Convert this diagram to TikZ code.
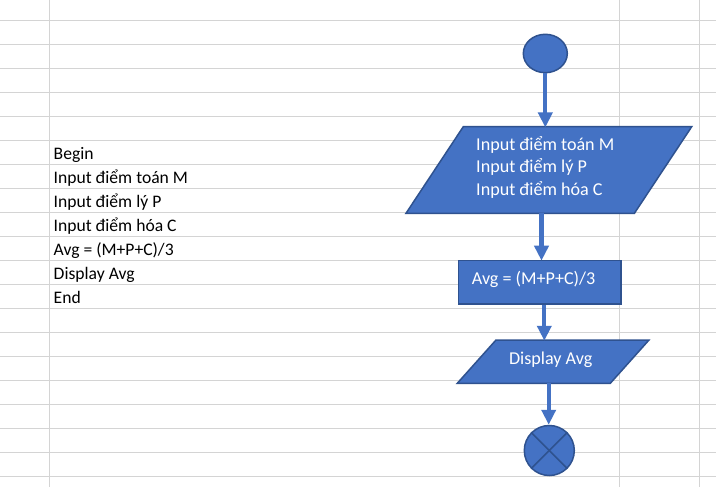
\documentclass[tikz,border=0pt]{standalone}
\usepackage{fontspec}
\setmainfont{Carlito}
\usetikzlibrary{arrows.meta,shapes.geometric,calc}
\definecolor{gridc}{HTML}{D4D4D4}
\definecolor{shapefill}{HTML}{4472C4}
\definecolor{shapeline}{HTML}{2F528F}
\tikzset{
  gridline/.style={draw=gridc,line width=1pt},
  fc/.style={fill=shapefill,draw=shapeline,line width=1.5pt,inner sep=0pt},
  hidden/.style={draw=none,inner sep=0pt,outer sep=0pt},
  flow/.style={draw=shapefill,line width=4.3pt,-{Triangle[width=14pt,length=15pt]},shorten >=0pt},
  celltext/.style={anchor=base west,inner sep=0pt,font=\fontsize{17.6}{20}\selectfont,text=black},
  shapetext/.style={inner sep=0pt,font=\fontsize{18.1}{21}\selectfont,text=white},
}
\begin{document}
\begin{tikzpicture}[x=1pt,y=-1pt]
\useasboundingbox (0,0) rectangle (716,487);
\fill[white] (0,0) rectangle (716,487);
% spreadsheet grid
\foreach \k in {0,...,19}{
  \draw[gridline] (0,20.3+24*\k) -- (716,20.3+24*\k);
}
\foreach \xx in {49.3,619.3,699.3}{
  \draw[gridline] (\xx,0) -- (\xx,487);
}
% cell texts
\node[celltext] (c1) at (53.5,159.3) {Begin};
\node[celltext] (c2) at (53.5,183.3) {Input điểm toán M};
\node[celltext] (c3) at (53.5,207.3) {Input điểm lý P};
\node[celltext] (c4) at (53.5,231.3) {Input điểm hóa C};
\node[celltext] (c5) at (53.5,255.3) {Avg = (M+P+C)/3};
\node[celltext] (c6) at (53.5,279.3) {Display Avg};
\node[celltext] (c7) at (53.5,303.3) {End};

% start
\node[fc,ellipse,minimum width=44pt,minimum height=38.4pt] (start) at (545.3,53.5) {};

% input parallelogram
\node[hidden,minimum width=285.7pt,minimum height=86.6pt] (inp) at (548.85,170) {};
\draw[fc,line join=miter] ($(inp.north west)+(57.3,0)$) -- (inp.north east)
   -- ($(inp.south east)+(-57.3,0)$) -- (inp.south west) -- cycle;
\node[shapetext,anchor=base west] (t1) at (476,150) {Input điểm toán M};
\node[shapetext,anchor=base west] (t2) at (476,172.8) {Input điểm lý P};
\node[shapetext,anchor=base west] (t3) at (476,195.3) {Input điểm hóa C};

% process rectangle
\node[fc,rectangle,minimum width=162.3pt,minimum height=43.3pt] (proc) at (539.85,282.35) {};
\node[shapetext,anchor=base west] (tp) at (471.7,284.3) {Avg = (M+P+C)/3};

% output parallelogram
\node[hidden,minimum width=191.7pt,minimum height=43.3pt] (outp) at (553.15,361.65) {};
\draw[fc,line join=miter] ($(outp.north west)+(38.7,0)$) -- (outp.north east)
   -- ($(outp.south east)+(-38.7,0)$) -- (outp.south west) -- cycle;
\node[shapetext,anchor=base] (to) at (550.7,364.3) {Display Avg};

% end
\node[fc,circle,minimum size=50pt] (stop) at (549.3,450.5) {};
\draw[draw=shapeline,line width=1.5pt] (stop.north east) -- (stop.south west);
\draw[draw=shapeline,line width=1.5pt] (stop.north west) -- (stop.south east);

% connectors
\coordinate (a1) at ([yshift=-0.75pt]inp.north -| start.south);
\draw[flow] (start.south) -- (a1);
\coordinate (b0) at (541.5,0);
\draw[flow] (b0 |- inp.south) -- ([yshift=-0.75pt]b0 |- proc.north);
\coordinate (b1) at (544.3,0);
\draw[flow] (b1 |- proc.south) -- ([yshift=-0.75pt]b1 |- outp.north);
\coordinate (b2) at (548.7,0);
\draw[flow] (b2 |- outp.south) -- (b2 |- stop.north);
\end{tikzpicture}
\end{document}
